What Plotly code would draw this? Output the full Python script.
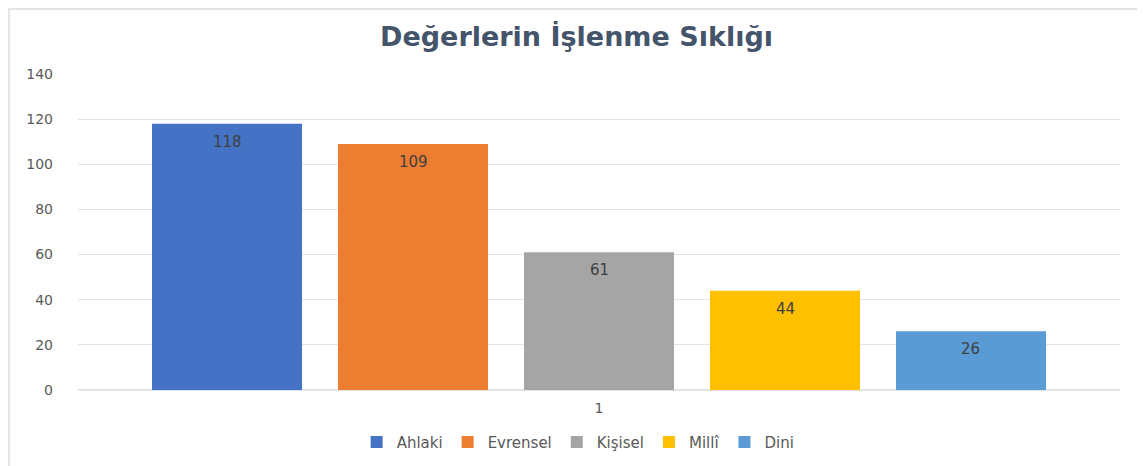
import plotly.graph_objects as go

categories = ["1"]
series_names = ["Ahlaki", "Evrensel", "Kişisel", "Millî", "Dini"]
series_values = [118, 109, 61, 44, 26]
series_colors = ["#4472C4", "#ED7D31", "#A5A5A5", "#FFC000", "#5B9BD5"]

SLOT = (1 - 0.1075) / len(series_names)  # slot width in category units

fig = go.Figure()
for i, (name, val, col) in enumerate(zip(series_names, series_values, series_colors)):
    fig.add_trace(go.Bar(
        x=categories, y=[val], name=name,
        marker=dict(color=col, line=dict(width=0)),
    ))
    fig.add_annotation(
        x=(i - (len(series_names) - 1) / 2) * SLOT, y=val, xref="x", yref="y",
        text=str(val), showarrow=False, yanchor="top", yshift=-7,
        font=dict(family="DejaVu Sans", size=15, color="#404040"),
    )

fig.update_layout(
    width=1137, height=458,
    margin=dict(l=70, r=25, t=66, b=76, autoexpand=False),
    paper_bgcolor="white", plot_bgcolor="white",
    barmode="group", bargap=0.1075, bargroupgap=0.1935,
    title=dict(text="<b>Değerlerin İşlenme Sıklığı</b>", x=0.5, xanchor="center",
               y=0.937, yanchor="middle",
               font=dict(family="DejaVu Sans", size=27, color="#44546A")),
    font=dict(family="DejaVu Sans", color="#595959"),
    legend=dict(orientation="h", x=0.48, xanchor="center", y=-0.165, yanchor="middle",
                font=dict(size=15, color="#595959"), itemwidth=30, traceorder="normal"),
    showlegend=True,
)
fig.update_xaxes(showgrid=False, showline=False, ticks="", ticklabelstandoff=8,
                 tickfont=dict(size=14, color="#595959"))
fig.update_yaxes(range=[0, 140], dtick=20, showgrid=True, gridcolor="#E0E3E8", gridwidth=1,
                 zeroline=True, zerolinecolor="#E0E3E8", ticks="", ticklabelstandoff=24,
                 tickfont=dict(size=14, color="#595959"))
fig.add_shape(type="rect", xref="paper", yref="paper", x0=-0.0662, x1=1.1, y0=-0.4, y1=1.2057,
              line=dict(color="#DADDE2", width=1.5), fillcolor="rgba(0,0,0,0)", layer="below")

fig.write_html("out.html")
